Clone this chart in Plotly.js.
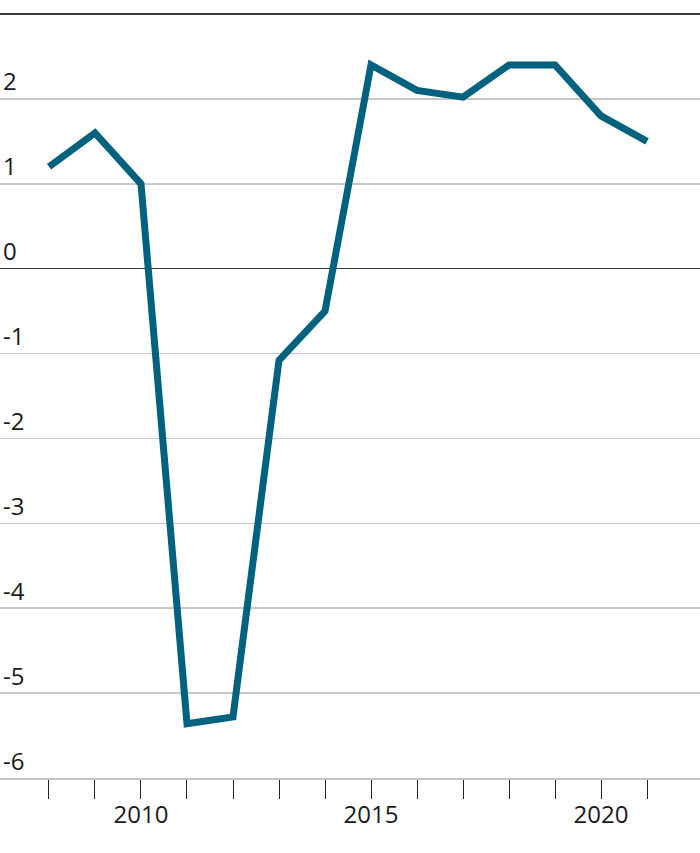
<!DOCTYPE html>
<html>
<head>
<meta charset="utf-8">
<script src="https://cdn.plot.ly/plotly-3.0.1.min.js"></script>
<style>
html,body{margin:0;padding:0;background:#fff;}
#chart{width:700px;height:853px;}
</style>
</head>
<body>
<div id="chart"></div>
<script>
const years = [2008,2009,2010,2011,2012,2013,2014,2015,2016,2017,2018,2019,2020,2021];
const values = [1.2,1.6,1.0,-5.36,-5.28,-1.08,-0.5,2.4,2.1,2.02,2.4,2.4,1.8,1.5];
const yTicks = [-6,-5,-4,-3,-2,-1,0,1,2];
const yTickText = ['-6','-5','-4','-3','-2','-1','0','1','2'];
const xLabelYears = [2010,2015,2020];

const trace = {
  x: years, y: values, type: 'scatter', mode: 'lines',
  line: {color: '#00627e', width: 7},
  hoverinfo: 'skip'
};

const layout = {
  width: 700, height: 853,
  margin: {l: 0, r: 0, t: 14, b: 75},
  paper_bgcolor: '#fff', plot_bgcolor: '#fff',
  showlegend: false,
  font: {family: 'Open Sans, sans-serif', size: 24, color: '#1a1a1a'},
  xaxis: {
    range: [2006.935, 2022.152],
    tickmode: 'array',
    tickvals: years,
    ticktext: years.map(y => xLabelYears.includes(y) ? String(y) : ''),
    ticks: 'outside', ticklen: 19, tickwidth: 1, tickcolor: '#222',
    ticklabelstandoff: -5,
    showgrid: false, zeroline: false,
    showline: true, linecolor: '#c4c4c4', linewidth: 2,
    tickfont: {size: 24, color: '#1a1a1a'},
    fixedrange: true
  },
  yaxis: {
    range: [-6, 3],
    tickmode: 'array', tickvals: yTicks, ticktext: yTickText,
    ticklabelposition: 'inside top',
    showgrid: true, gridcolor: '#c8c8c8', gridwidth: 1.5,
    zeroline: true, zerolinecolor: '#3a3a3a', zerolinewidth: 1.5,
    showline: false, ticks: '',
    tickfont: {size: 24, color: '#1a1a1a'},
    fixedrange: true
  },
  shapes: [{
    type: 'line', xref: 'paper', yref: 'paper', x0: 0, x1: 1, y0: 1, y1: 1,
    line: {color: '#3a3a3a', width: 2}
  }]
};

Plotly.newPlot('chart', [trace], layout, {staticPlot: true, displayModeBar: false});
</script>
</body>
</html>
